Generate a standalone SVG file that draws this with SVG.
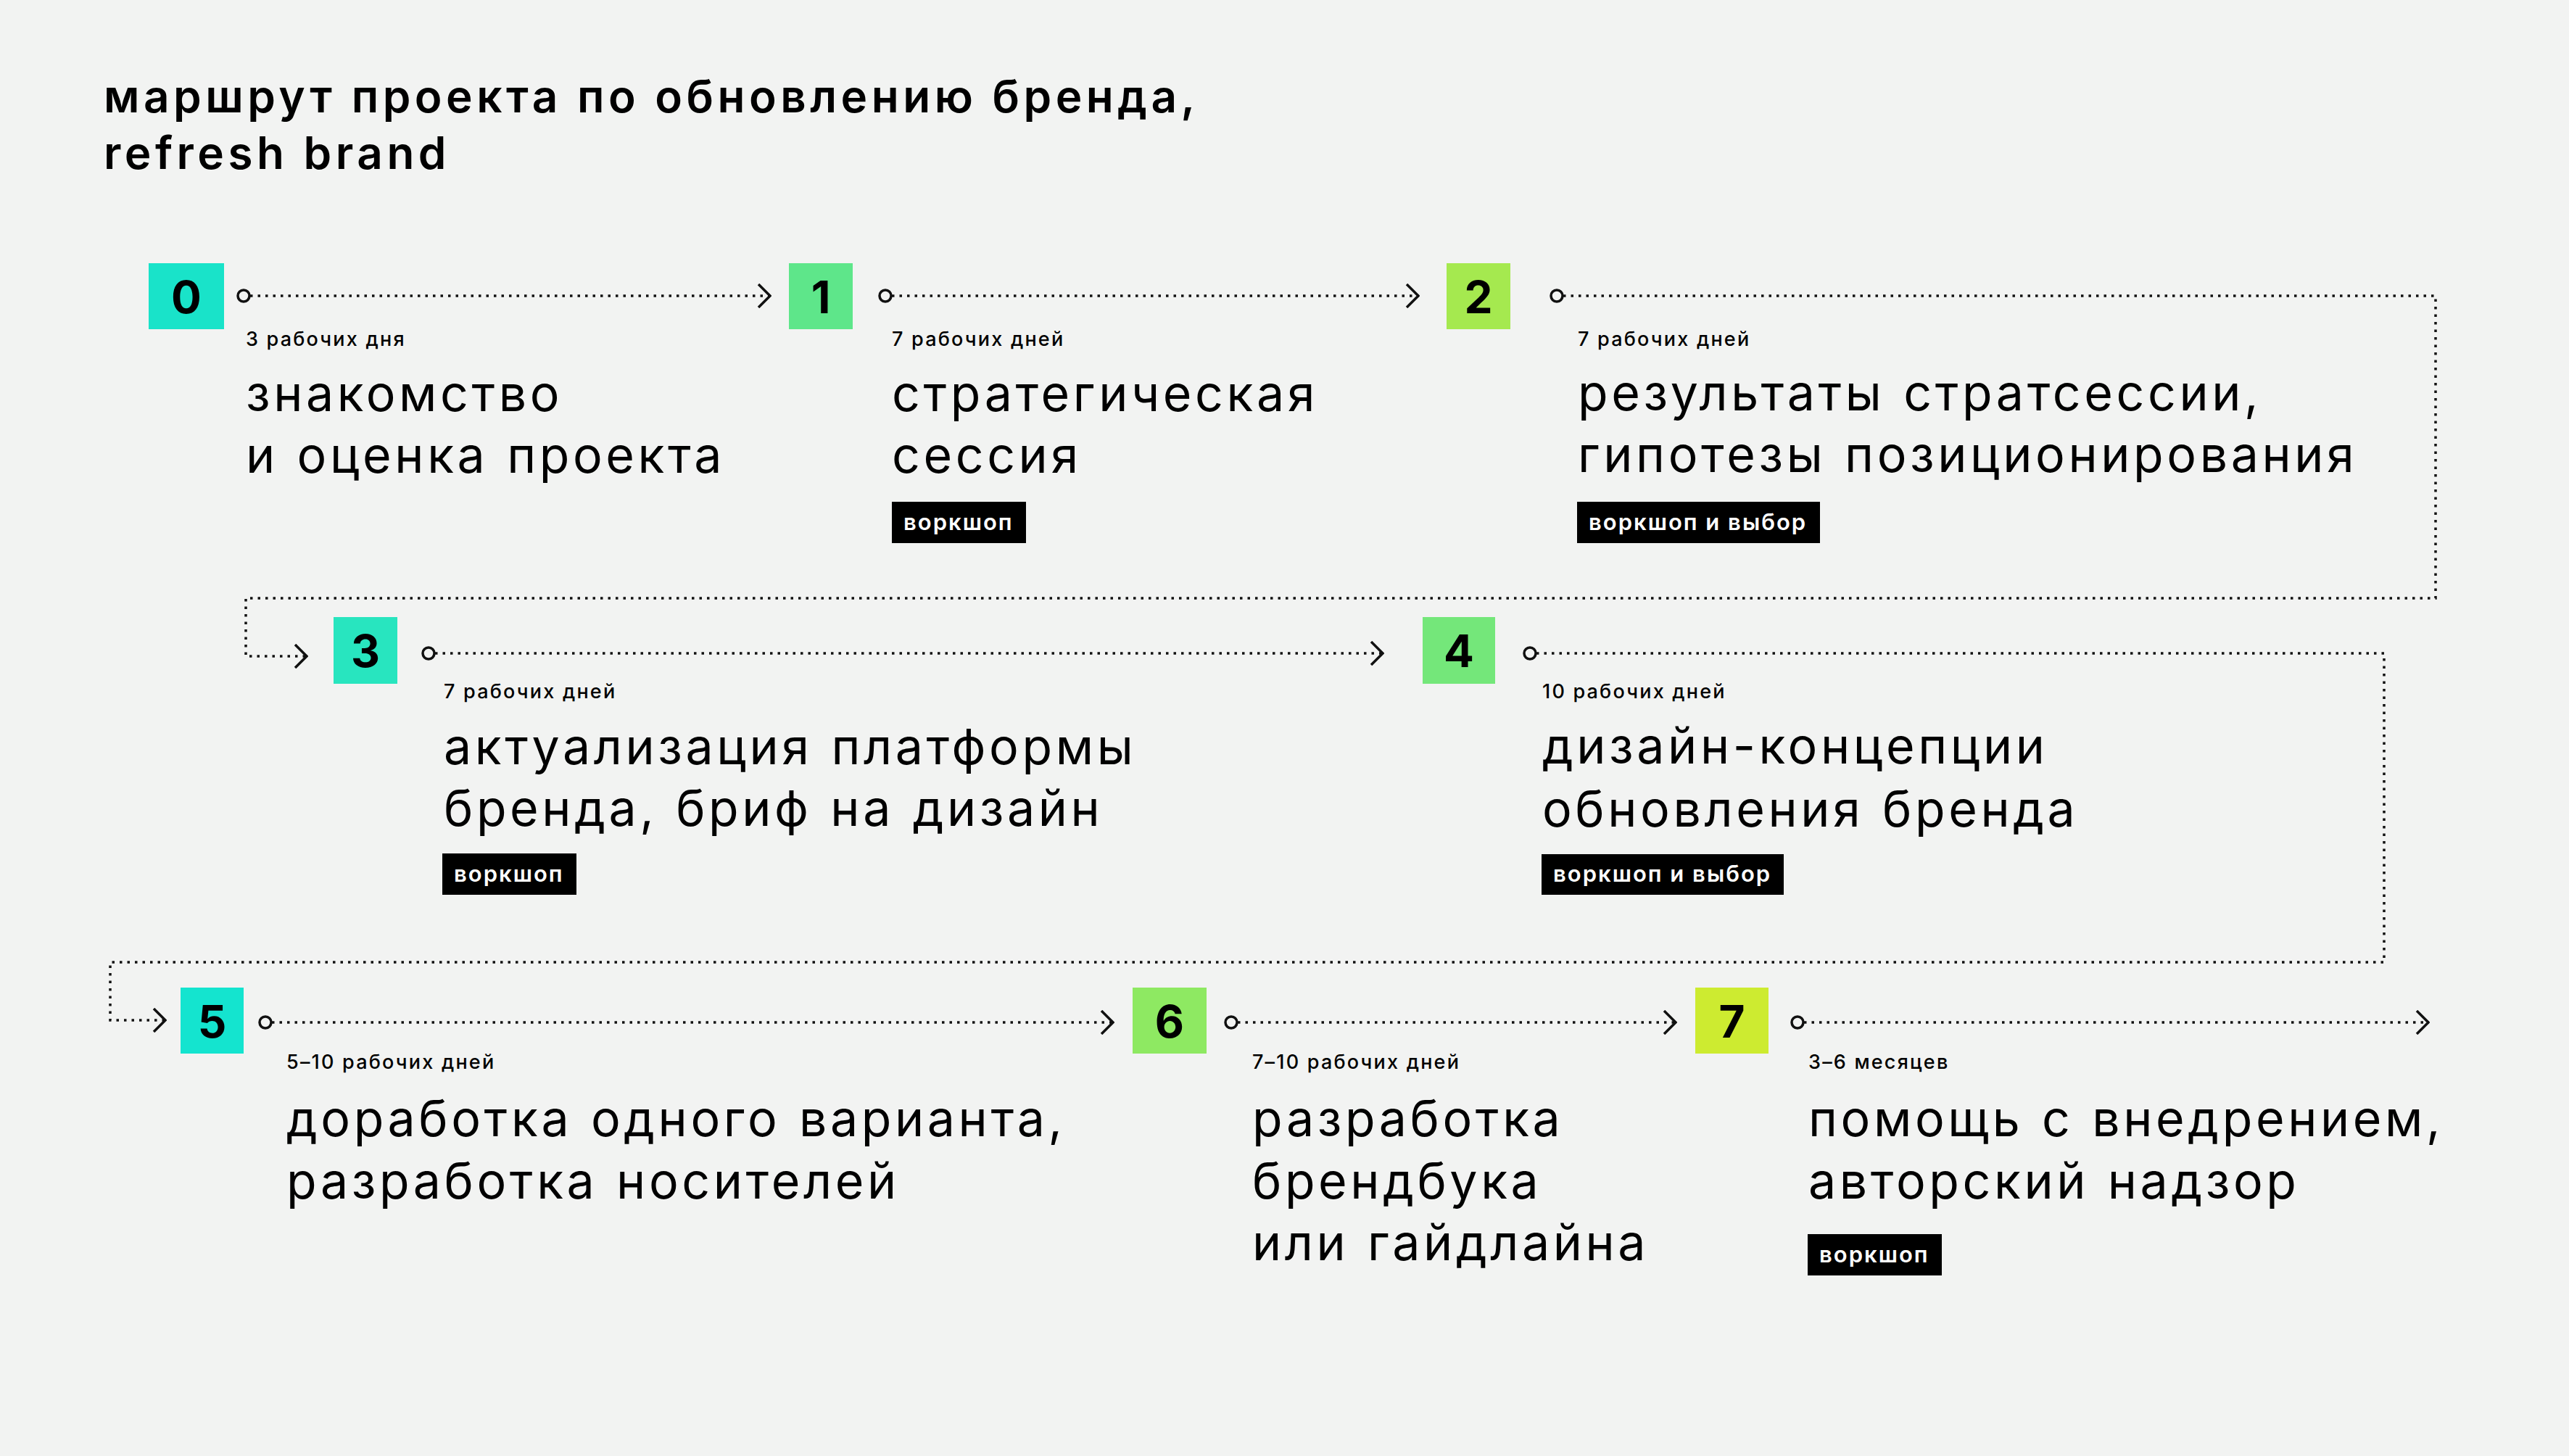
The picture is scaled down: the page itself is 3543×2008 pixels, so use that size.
<svg xmlns="http://www.w3.org/2000/svg" width="3543" height="2008" viewBox="0 0 3543 2008">
<style>
.bg{fill:#f2f3f2}
.t{font-family:Inter,"Liberation Sans",sans-serif;fill:#000}
.title{font-size:62px;font-weight:600;letter-spacing:5.5px}
.main{font-size:68px;font-weight:400;letter-spacing:4.6px;word-spacing:2px}
.dur{font-size:27px;font-weight:500;letter-spacing:2.2px}
.tagr{fill:#000}
.tagt{font-family:Inter,"Liberation Sans",sans-serif;font-size:31px;font-weight:600;fill:#fff;letter-spacing:2px}
.num{font-family:Inter,"Liberation Sans",sans-serif;font-size:62px;font-weight:700;fill:#000;text-anchor:middle}
.dot{fill:none;stroke:#111;stroke-width:3.5;stroke-dasharray:3.5 7}
.ring{fill:none;stroke:#111;stroke-width:3.5}
</style>
<defs>
<marker id="chev" viewBox="0 0 20 34" refX="19" refY="17" markerWidth="20" markerHeight="34" markerUnits="userSpaceOnUse" orient="auto">
<path d="M2 1 L18 17 L2 33" fill="none" stroke="#111" stroke-width="3.5"/>
</marker>
</defs>
<rect class="bg" x="0" y="0" width="3543" height="2008"/>
<g id="title">
<text class="t title" x="143" y="155">маршрут проекта по обновлению бренда,</text>
<text class="t title" x="143" y="233">refresh brand</text>
</g>
<g id="connectors">
<path class="dot" d="M345 408 H1063" marker-end="url(#chev)"/>
<path class="dot" d="M1230 408 H1957" marker-end="url(#chev)"/>
<path class="dot" d="M2156 408 H3359 V825 H339 V905 H424" marker-end="url(#chev)"/>
<path class="dot" d="M600 901 H1908" marker-end="url(#chev)"/>
<path class="dot" d="M2119 901 H3288 V1327 H152 V1407 H229" marker-end="url(#chev)"/>
<path class="dot" d="M375 1410 H1536" marker-end="url(#chev)"/>
<path class="dot" d="M1707 1410 H2312" marker-end="url(#chev)"/>
<path class="dot" d="M2488 1410 H3350" marker-end="url(#chev)"/>
<circle class="ring" cx="336" cy="408" r="8"/>
<circle class="ring" cx="1221" cy="408" r="8"/>
<circle class="ring" cx="2147" cy="408" r="8"/>
<circle class="ring" cx="591" cy="901" r="8"/>
<circle class="ring" cx="2110" cy="901" r="8"/>
<circle class="ring" cx="366" cy="1410" r="8"/>
<circle class="ring" cx="1698" cy="1410" r="8"/>
<circle class="ring" cx="2479" cy="1410" r="8"/>
</g>
<g id="step0">
<rect x="205" y="363" width="104" height="91" fill="#19e3c9"/>
<text class="num" x="257" y="432">0</text>
<text class="t dur" x="339" y="477">3 рабочих дня</text>
<text class="t main" x="339" y="567">знакомство</text>
<text class="t main" x="339" y="652">и оценка проекта</text>
</g>
<g id="step1">
<rect x="1088" y="363" width="88" height="91" fill="#5ee68a"/>
<text class="num" x="1132" y="432">1</text>
<text class="t dur" x="1230" y="477">7 рабочих дней</text>
<text class="t main" x="1230" y="567">стратегическая</text>
<text class="t main" x="1230" y="652">сессия</text>
<rect class="tagr" x="1230" y="692" width="185" height="57"/>
<text class="tagt" x="1246" y="731">воркшоп</text>
</g>
<g id="step2">
<rect x="1995" y="363" width="88" height="91" fill="#a5e94f"/>
<text class="num" x="2039" y="432">2</text>
<text class="t dur" x="2176" y="477">7 рабочих дней</text>
<text class="t main" x="2176" y="566">результаты стратсессии,</text>
<text class="t main" x="2176" y="651">гипотезы позиционирования</text>
<rect class="tagr" x="2175" y="692" width="335" height="57"/>
<text class="tagt" x="2191" y="731">воркшоп и выбор</text>
</g>
<g id="step3">
<rect x="460" y="851" width="88" height="92" fill="#28e5bf"/>
<text class="num" x="504" y="920">3</text>
<text class="t dur" x="612" y="963">7 рабочих дней</text>
<text class="t main" x="612" y="1054">актуализация платформы</text>
<text class="t main" x="612" y="1139">бренда, бриф на дизайн</text>
<rect class="tagr" x="610" y="1177" width="185" height="57"/>
<text class="tagt" x="626" y="1216">воркшоп</text>
</g>
<g id="step4">
<rect x="1962" y="851" width="100" height="92" fill="#74e77a"/>
<text class="num" x="2012" y="920">4</text>
<text class="t dur" x="2127" y="963">10 рабочих дней</text>
<text class="t main" x="2127" y="1053">дизайн-концепции</text>
<text class="t main" x="2127" y="1140">обновления бренда</text>
<rect class="tagr" x="2126" y="1178" width="334" height="56"/>
<text class="tagt" x="2142" y="1216">воркшоп и выбор</text>
</g>
<g id="step5">
<rect x="249" y="1362" width="87" height="91" fill="#14e4cf"/>
<text class="num" x="292.5" y="1431">5</text>
<text class="t dur" x="395" y="1474">5–10 рабочих дней</text>
<text class="t main" x="395" y="1567">доработка одного варианта,</text>
<text class="t main" x="395" y="1653">разработка носителей</text>
</g>
<g id="step6">
<rect x="1562" y="1362" width="102" height="91" fill="#8ee962"/>
<text class="num" x="1613" y="1431">6</text>
<text class="t dur" x="1727" y="1474">7–10 рабочих дней</text>
<text class="t main" x="1727" y="1567">разработка</text>
<text class="t main" x="1727" y="1653">брендбука</text>
<text class="t main" x="1727" y="1738">или гайдлайна</text>
</g>
<g id="step7">
<rect x="2338" y="1362" width="101" height="91" fill="#cdeb30"/>
<text class="num" x="2388.5" y="1431">7</text>
<text class="t dur" x="2494" y="1474">3–6 месяцев</text>
<text class="t main" x="2494" y="1567">помощь с внедрением,</text>
<text class="t main" x="2494" y="1653">авторский надзор</text>
<rect class="tagr" x="2493" y="1702" width="185" height="57"/>
<text class="tagt" x="2509" y="1741">воркшоп</text>
</g>
</svg>
